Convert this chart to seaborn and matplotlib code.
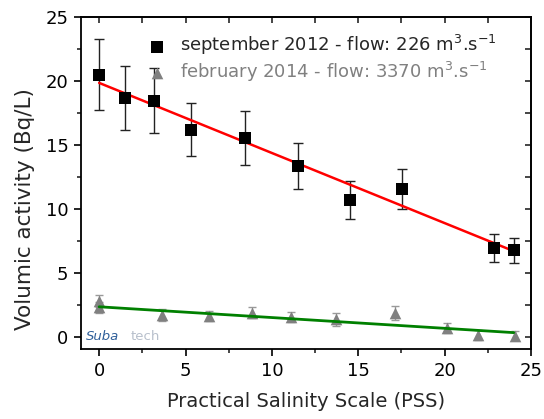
import matplotlib
matplotlib.use("Agg")
import matplotlib.pyplot as plt
import seaborn as sns
import numpy as np
import pandas as pd
from matplotlib.ticker import MultipleLocator

# ---- data ----
sep_x = [0.0, 1.52, 3.15, 5.33, 8.42, 11.5, 14.55, 17.53, 22.85, 23.99]
sep_y = [20.5, 18.7, 18.45, 16.2, 15.55, 13.35, 10.7, 11.55, 6.95, 6.75]
sep_err = [2.75, 2.5, 2.55, 2.1, 2.1, 1.8, 1.5, 1.55, 1.1, 1.0]

feb_x = [0.0, 0.0, 3.63, 6.37, 8.84, 11.12, 13.72, 17.1, 20.15, 21.93, 24.05]
feb_y = [2.8, 2.3, 1.7, 1.65, 1.9, 1.53, 1.37, 1.89, 0.72, 0.16, 0.08]
feb_err = [0.45, 0.4, 0.5, 0.4, 0.4, 0.4, 0.5, 0.55, 0.4, 0.4, 0.35]

fit_x = [0.0, 24.0]
sep_fit = [19.85, 6.7]
feb_fit = [2.35, 0.33]

sep_label = "september 2012 - flow: 226 m$^3$.s$^{-1}$"
feb_label = "february 2014 - flow: 3370 m$^3$.s$^{-1}$"
xlabel = "Practical Salinity Scale (PSS)"
ylabel = "Volumic activity (Bq/L)"

sns.set_style("ticks")
plt.rcParams['font.family'] = ['DejaVu Sans']
plt.rcParams['mathtext.fontset'] = 'dejavusans'

fig = plt.figure(figsize=(5.44, 4.19), dpi=100)
ax = fig.add_axes([81/544, 1-349/419, 450/544, 332/419])

sep_df = pd.DataFrame({"x": sep_x, "y": sep_y})
feb_df = pd.DataFrame({"x": feb_x, "y": feb_y})
fit_df = pd.DataFrame({"x": fit_x, "sep": sep_fit, "feb": feb_fit})

# error bars
ax.errorbar(feb_x, feb_y, yerr=feb_err, fmt='none', ecolor='#9a9a9a',
            elinewidth=1.0, capsize=3, capthick=1.0, zorder=2)
ax.errorbar(sep_x, sep_y, yerr=sep_err, fmt='none', ecolor='#222222',
            elinewidth=1.0, capsize=3.5, capthick=1.0, zorder=2)

# fit lines
sns.lineplot(data=fit_df, x="x", y="sep", ax=ax, color='#ff0000', lw=1.8, zorder=4)
sns.lineplot(data=fit_df, x="x", y="feb", ax=ax, color='#008000', lw=2.0, zorder=4)

# markers
sns.scatterplot(data=feb_df, x="x", y="y", ax=ax, marker='^', s=70,
                color='#808080', edgecolor='#808080', linewidth=0, zorder=3,
                label=feb_label)
sns.scatterplot(data=sep_df, x="x", y="y", ax=ax, marker='s', s=85,
                color='black', edgecolor='black', linewidth=0, zorder=5,
                label=sep_label)

ax.set_xlim(-1.05, 25)
ax.set_ylim(-0.95, 25.0)
ax.xaxis.set_major_locator(MultipleLocator(5))
ax.xaxis.set_minor_locator(MultipleLocator(2.5))
ax.yaxis.set_major_locator(MultipleLocator(5))
ax.yaxis.set_minor_locator(MultipleLocator(2.5))

for s in ax.spines.values():
    s.set_visible(True)
    s.set_linewidth(1.3)
    s.set_color('black')

ax.tick_params(axis='both', which='major', direction='out', length=5, width=1.2,
               labelsize=13, colors='black', pad=4)
ax.tick_params(axis='both', which='minor', direction='out', length=3, width=1.2)
ax.tick_params(top=False, right=False, which='both')
# top/right ticks inward
sec_top = ax.secondary_xaxis('top')
sec_top.xaxis.set_major_locator(MultipleLocator(2.5))
sec_top.tick_params(direction='in', length=4, width=1.2, labeltop=False)
sec_top.spines['top'].set_linewidth(1.3)
sec_right = ax.secondary_yaxis('right')
sec_right.yaxis.set_major_locator(MultipleLocator(2.5))
sec_right.tick_params(direction='in', length=4, width=1.2, labelright=False)
sec_right.spines['right'].set_linewidth(1.3)

ax.set_xlabel(xlabel, fontsize=14, labelpad=9)
ax.set_ylabel(ylabel, fontsize=15.5)
ax.yaxis.set_label_coords(-0.102, 0.42)

handles, labels = ax.get_legend_handles_labels()
order = [labels.index(sep_label), labels.index(feb_label)]
leg = ax.legend([handles[i] for i in order], [labels[i] for i in order],
                loc='upper left', bbox_to_anchor=(0.112, 1.0), frameon=False,
                fontsize=13, handletextpad=0.8, labelspacing=0.12,
                handlelength=1.0, markerscale=1.0)
leg.get_texts()[1].set_color('#808080')

# logo-like text
ax.text(-0.75, 0.0, "Suba", fontsize=9.5, style='italic', color='#2f5f9a',
        va='center', ha='left', zorder=1)
ax.text(1.85, 0.0, "tech", fontsize=9.5, color='#b8c0cc', va='center',
        ha='left', zorder=1)

fig.savefig("out.png", dpi=100)
